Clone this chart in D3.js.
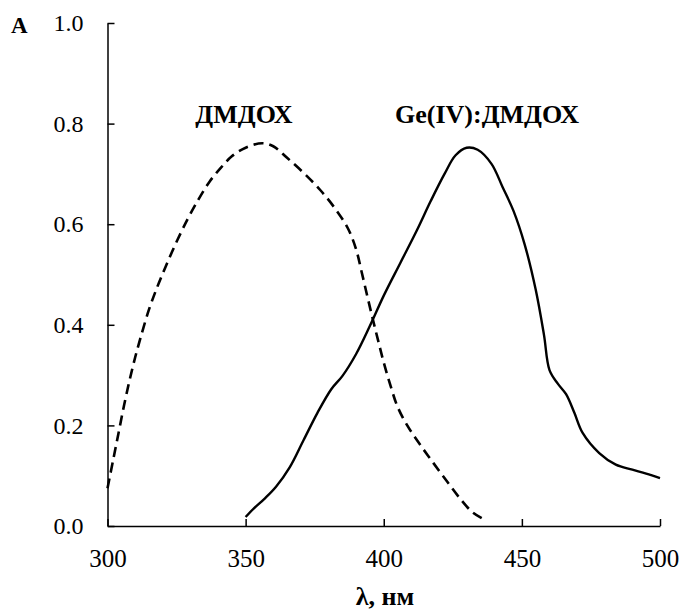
<!DOCTYPE html>
<html>
<head>
<meta charset="utf-8">
<script src="https://cdn.jsdelivr.net/npm/d3@7"></script>
<style>
  body { margin: 0; background: #fff; }
  text { font-family: "Liberation Serif", "Times New Roman", serif; fill: #000; }
</style>
</head>
<body>
<div id="mainDiv"></div>
<script>
// ДМДОХ (dashed)
var ligandX = [300, 302, 304, 306, 308, 310, 312, 315, 318, 321, 325, 329, 333, 337, 341, 345, 350, 356, 360,
               365, 371, 377, 382, 387, 390, 392, 394, 396, 398, 400, 402.5, 405, 408.5, 413, 418, 423, 428, 432, 436];
var ligandY = [0.075, 0.13, 0.185, 0.24, 0.29, 0.335, 0.375, 0.43, 0.475, 0.515, 0.565, 0.61, 0.65, 0.685,
               0.712, 0.735, 0.752, 0.761, 0.755, 0.732, 0.702, 0.668, 0.634, 0.592, 0.55, 0.505, 0.458, 0.412,
               0.368, 0.325, 0.278, 0.237, 0.2, 0.163, 0.125, 0.088, 0.052, 0.028, 0.014];

// Ge(IV):ДМДОХ (solid)
var complexX = [350, 353, 357, 361, 366, 371, 376, 381, 385, 390, 395, 400, 406, 412, 417, 422, 426, 430, 434,
                439, 443, 447, 451, 455, 458, 460, 463, 466, 469, 472, 478, 484, 490, 495, 500];
var complexY = [0.018, 0.035, 0.055, 0.078, 0.117, 0.171, 0.225, 0.272, 0.298, 0.342, 0.398, 0.458, 0.523, 0.588,
                0.646, 0.7, 0.737, 0.752, 0.748, 0.72, 0.674, 0.626, 0.56, 0.47, 0.38, 0.31, 0.283, 0.262,
                0.225, 0.185, 0.145, 0.122, 0.112, 0.104, 0.095];

var xTicks = [300, 350, 400, 450, 500];
var yTicks = [0, 0.2, 0.4, 0.6, 0.8, 1.0];

var width = 683, height = 610;
var plotLeft = 107.5, plotRight = 660, plotTop = 23, plotBottom = 526;

var mySvg = d3.select("#mainDiv").append("svg")
              .attr("width", width)
              .attr("height", height);

var x = d3.scaleLinear().domain([300, 500]).range([plotLeft, plotRight]);
var y = d3.scaleLinear().domain([0, 1]).range([plotBottom, plotTop]);

// axes, ticks pointing inward
var xAxis = mySvg.append("g")
     .attr("transform", "translate(0," + plotBottom + ")")
     .call(d3.axisBottom(x).tickValues(xTicks).tickSizeInner(-7).tickSizeOuter(0).tickFormat(d3.format("d")));
xAxis.selectAll("text").attr("y", 23).style("font-size", "25px");

var yAxis = mySvg.append("g")
     .attr("transform", "translate(" + plotLeft + ",0)")
     .call(d3.axisLeft(y).tickValues(yTicks).tickSizeInner(-7).tickSizeOuter(0).tickPadding(24).tickFormat(d3.format(".1f")));
yAxis.selectAll("text").style("font-size", "24px");

mySvg.selectAll(".domain, .tick line")
     .attr("stroke", "#000")
     .attr("stroke-width", 1.5);
mySvg.selectAll("g").attr("font-family", null).attr("font-size", null);

var line = d3.line()
             .x(function(d) { return x(d[0]); })
             .y(function(d) { return y(d[1]); })
             .curve(d3.curveCatmullRom);

mySvg.append("path")
     .datum(d3.zip(ligandX, ligandY))
     .attr("d", line)
     .attr("fill", "none")
     .attr("stroke", "#000")
     .attr("stroke-width", 2.6)
     .attr("stroke-dasharray", "10,6");

mySvg.append("path")
     .datum(d3.zip(complexX, complexY))
     .attr("d", line)
     .attr("fill", "none")
     .attr("stroke", "#000")
     .attr("stroke-width", 2.4);

// labels
mySvg.append("text")
     .text("A")
     .attr("x", 11)
     .attr("y", 33)
     .style("font-size", "23px")
     .style("font-weight", "bold");

mySvg.append("text")
     .text("ДМДОХ")
     .attr("x", 244)
     .attr("y", 123)
     .attr("text-anchor", "middle")
     .style("font-size", "26px")
     .style("font-weight", "bold");

mySvg.append("text")
     .text("Ge(IV):ДМДОХ")
     .attr("x", 487)
     .attr("y", 123)
     .attr("text-anchor", "middle")
     .style("font-size", "26px")
     .style("font-weight", "bold");

mySvg.append("text")
     .text("λ, нм")
     .attr("x", 385)
     .attr("y", 605)
     .attr("text-anchor", "middle")
     .style("font-size", "26px")
     .style("font-weight", "bold");
</script>
</body>
</html>
